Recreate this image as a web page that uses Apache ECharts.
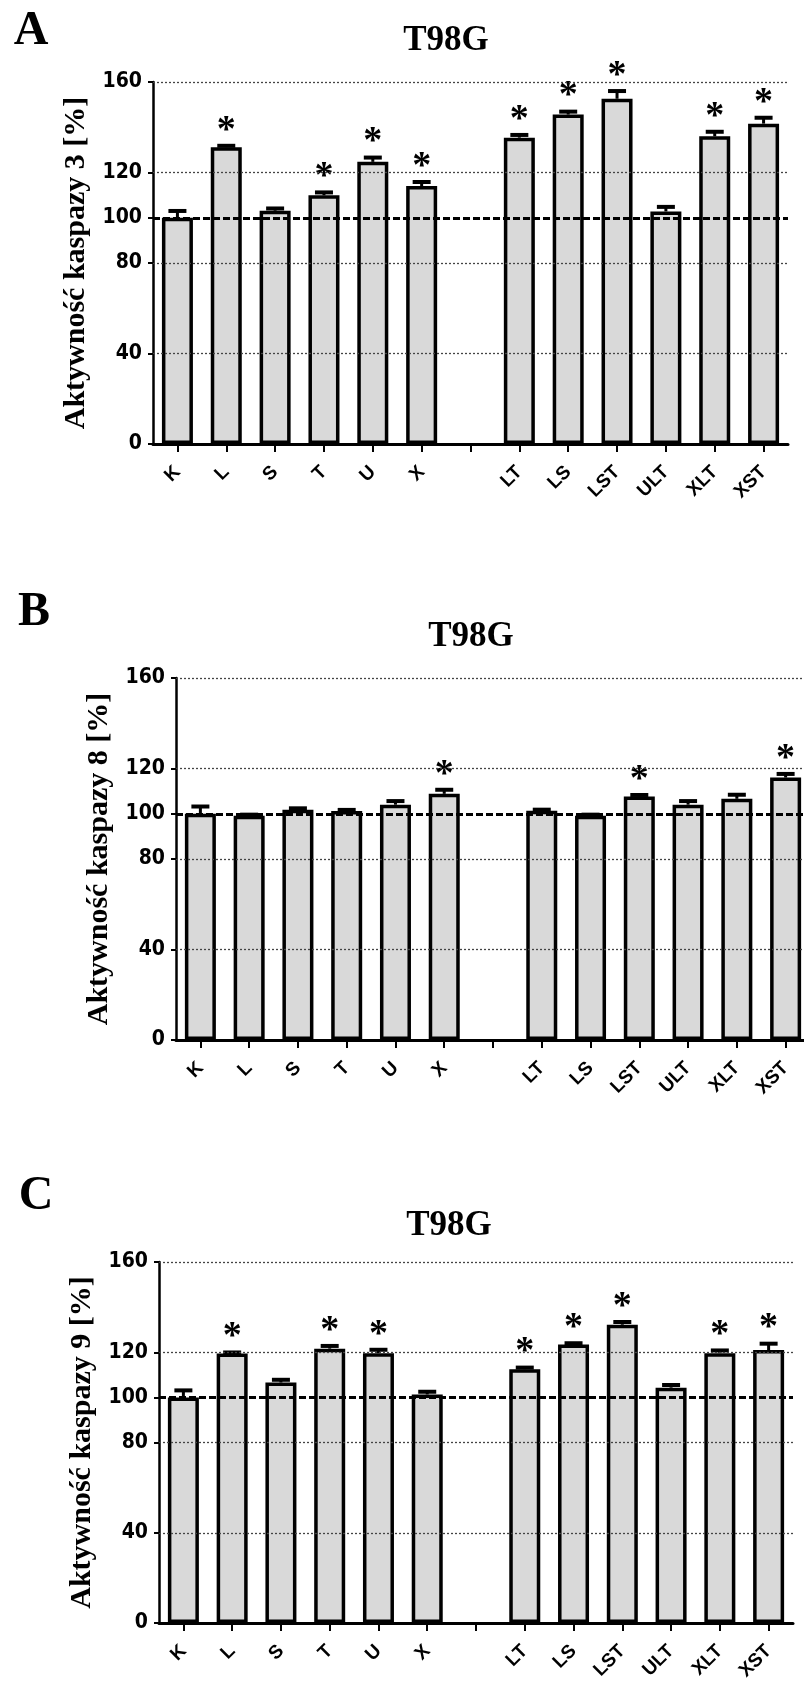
<!DOCTYPE html>
<html>
<head>
<meta charset="utf-8">
<script src="https://cdn.jsdelivr.net/npm/echarts@6/dist/echarts.min.js"></script>
<style>
html,body{margin:0;padding:0;background:#fff;overflow:hidden;}
#chart{width:830px;height:1683px;}
</style>
</head>
<body>
<div id="chart"></div>
<script>
const categories = ['K','L','S','T','U','X','','LT','LS','LST','ULT','XLT','XST'];
const tickValues = [0,40,80,100,120,160];
const gridValues = [40,80,120,160];
const refValue = 100;

const casp3Mean = [100,131.2,103.1,109.9,124.7,114,null,135.4,145.6,152.6,102.8,136,141.6];
const casp3Sem  = [3,0.6,1,1.3,1.9,1.8,null,1.2,1.3,3.4,2,2,2.6];
const casp3Sig  = [0,1,0,1,1,1,0,1,1,1,0,1,1];

const casp8Mean = [100,99.1,101.8,101.2,104,108.8,null,101.3,99.1,107.6,104,106.6,116];
const casp8Sem  = [3.2,0.5,0.6,0.5,1.6,1.8,null,0.5,0.5,0.7,1.6,1.8,1.6];
const casp8Sig  = [0,0,0,0,0,1,0,0,0,1,0,0,1];

const casp9Mean = [100,119.4,106.6,121.6,119.6,101.3,null,112.5,123.4,132.2,104.3,119.6,121];
const casp9Sem  = [3.1,0.5,1.2,1.2,1.5,1.2,null,0.7,0.6,1.2,1.2,1.2,2.8];
const casp9Sig  = [0,1,0,1,1,0,0,1,1,1,0,1,1];

const panelTitles = ['T98G','T98G','T98G'];
const panelLetters = ['A','B','C'];
const yNames = ['Aktywność kaspazy 3 [%]','Aktywność kaspazy 8 [%]','Aktywność kaspazy 9 [%]'];

const panels = [
  {mean: casp3Mean, sem: casp3Sem, sig: casp3Sig},
  {mean: casp8Mean, sem: casp8Sem, sig: casp8Sig},
  {mean: casp9Mean, sem: casp9Sem, sig: casp9Sig}
];

// layout
const grids = [
  {left:153, top:82, width:635, height:362},
  {left:176, top:678, width:634, height:362},
  {left:159, top:1262, width:634, height:362}
];
const nameGaps = [52, 57, 54];
const titlePos = [[446,41],[471,637],[449,1226]];
const letterPos = [[31,32],[34,613],[36,1197]];

const chart = echarts.init(document.getElementById('chart'), null, {renderer:'canvas'});

const xAxes = [], yAxes = [], series = [], graphics = [];
panels.forEach((p, i) => {
  xAxes.push({
    type:'category', gridIndex:i, data:categories,
    axisLine:{show:true, lineStyle:{color:'#000', width:3}},
    axisTick:{show:true, alignWithLabel:true, length:8, lineStyle:{color:'#000', width:2}},
    axisLabel:{interval:0, rotate:45, margin:25, color:'#000', fontFamily:'Liberation Sans, Arial, sans-serif', fontWeight:'bold', fontSize:19},
    splitLine:{show:false}
  });
  yAxes.push({
    type:'value', gridIndex:i, min:0, max:160,
    name: yNames[i], nameLocation:'middle', nameRotate:90, nameGap:nameGaps[i],
    nameTextStyle:{color:'#000', fontFamily:'Liberation Serif, Times New Roman, serif', fontWeight:'bold', fontSize:30},
    axisLine:{show:true, lineStyle:{color:'#000', width:2.5}},
    axisTick:{show:true, length:5, customValues: tickValues, lineStyle:{color:'#000', width:2}},
    axisLabel:{customValues: tickValues, margin:11, color:'#000', fontFamily:'Liberation Sans Narrow, DejaVu Sans Condensed, sans-serif', fontWeight:'bold', fontSize:21},
    splitLine:{show:false}
  });
  // background reference lines
  const mlData = gridValues.map(v => ({yAxis:v, lineStyle:{color:'#444', width:1.3, type:[2,2]}}));
  mlData.push({yAxis:refValue, lineStyle:{color:'#000', width:3, type:[7,3]}});
  series.push({
    type:'line', xAxisIndex:i, yAxisIndex:i, z:1,
    data: categories.map(() => null), symbol:'none',
    markLine:{silent:true, symbol:'none', label:{show:false}, animation:false, data: mlData}
  });
  series.push({
    type:'bar', xAxisIndex:i, yAxisIndex:i, z:2,
    data: p.mean, barWidth:31,
    itemStyle:{color:'#d9d9d9', borderColor:'#000', borderWidth:3.5},
    emphasis:{disabled:true}
  });
  const errData = [];
  categories.forEach((c, k) => {
    if (p.mean[k] != null) errData.push([k, p.mean[k], p.sem[k], p.sig[k]]);
  });
  series.push({
    type:'custom', xAxisIndex:i, yAxisIndex:i, z:3,
    data: errData,
    encode:{x:0, y:1},
    renderItem: function(params, api) {
      const x = api.value(0), m = api.value(1), e = api.value(2), s = api.value(3);
      const base = api.coord([x, m]);
      const top = api.coord([x, m + e]);
      const children = [
        {type:'line', shape:{x1:base[0], y1:base[1], x2:top[0], y2:top[1]}, style:{stroke:'#000', lineWidth:3}},
        {type:'line', shape:{x1:top[0]-9, y1:top[1], x2:top[0]+9, y2:top[1]}, style:{stroke:'#000', lineWidth:4}}
      ];
      if (s) {
        children.push({type:'text', x:top[0], y:top[1]-15,
          style:{text:'*', fill:'#000', font:'bold 38px "Liberation Serif", serif', textAlign:'center', textVerticalAlign:'middle'}});
      }
      return {type:'group', children: children};
    }
  });
  graphics.push({type:'text', x:titlePos[i][0], y:titlePos[i][1],
    style:{text:panelTitles[i], fill:'#000', font:'bold 35px "Liberation Serif", serif', textAlign:'center', textVerticalAlign:'middle'}});
  graphics.push({type:'text', x:letterPos[i][0], y:letterPos[i][1],
    style:{text:panelLetters[i], fill:'#000', font:'bold 48px "Liberation Serif", serif', textAlign:'center', textVerticalAlign:'middle'}});
});

chart.setOption({
  animation:false,
  backgroundColor:'#fff',
  grid: grids,
  xAxis: xAxes,
  yAxis: yAxes,
  series: series,
  graphic: graphics
});
</script>
</body>
</html>
